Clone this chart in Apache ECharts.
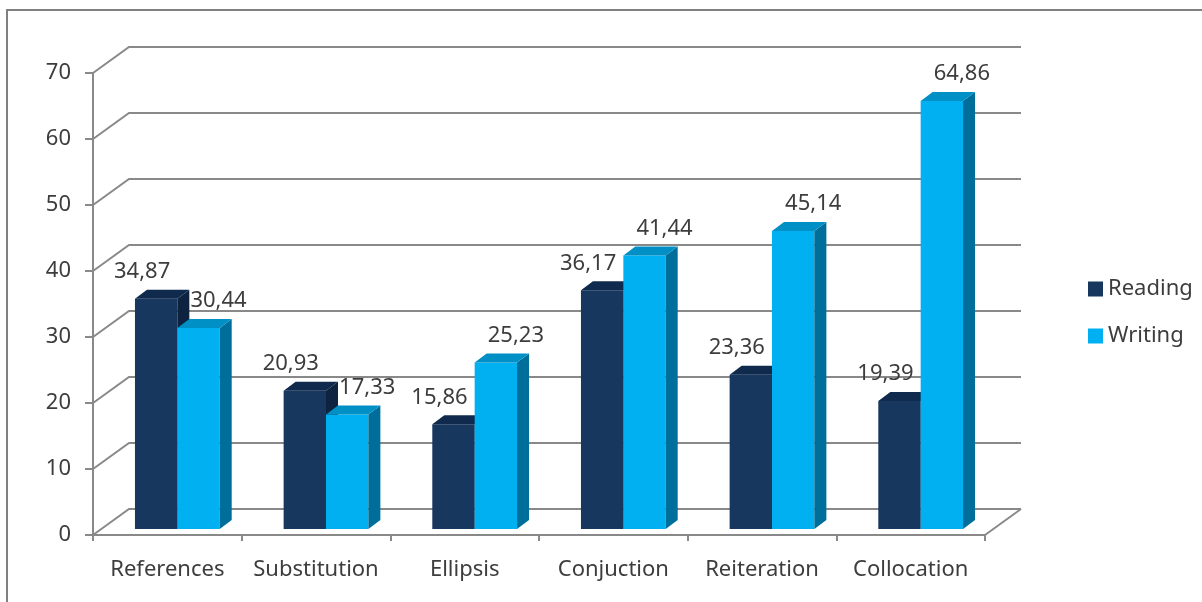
<!DOCTYPE html>
<html>
<head>
<meta charset="utf-8">
<script src="https://cdn.jsdelivr.net/npm/echarts@6/dist/echarts.min.js"></script>
<style>
html,body{margin:0;padding:0;background:#fff;}
#chart{width:1202px;height:602px;}
</style>
</head>
<body>
<div id="chart"></div>
<script>
const categories = ['References', 'Substitution', 'Ellipsis', 'Conjuction', 'Reiteration', 'Collocation'];
const reading = [34.87, 20.93, 15.86, 36.17, 23.36, 19.39];
const writing = [30.44, 17.33, 25.23, 41.44, 45.14, 64.86];
const yTicks = [0, 10, 20, 30, 40, 50, 60, 70];

const WALL_DX = 36, WALL_DY = -26;
const SHIFT_X = 10, SHIFT_Y = -6;
const DEPTH_X = 12, DEPTH_Y = -9;
const BAR_RATIO = 0.285;
const GRID_COLOR = '#898989';
const TEXT_COLOR = '#3d3d3d';
const FONT = '"Noto Sans", "Open Sans", sans-serif';

function fmt(v) { return v.toFixed(2).replace('.', ','); }

function barRenderer(side, colors, labelOffset) {
  return function (params, api) {
    const idx = api.value(0), val = api.value(1);
    const top = api.coord([idx, val]);
    const base = api.coord([idx, 0]);
    const band = api.size([1, 0])[0];
    const bw = band * BAR_RATIO;
    const cx = top[0] + SHIFT_X;
    const x1 = side < 0 ? cx - bw : cx;
    const x2 = x1 + bw;
    const yb = base[1] + SHIFT_Y;
    const yt = top[1] + SHIFT_Y;
    return {
      type: 'group',
      children: [
        { type: 'polygon', shape: { points: [[x1, yb], [x2, yb], [x2, yt], [x1, yt]] }, style: { fill: colors[0] } },
        { type: 'polygon', shape: { points: [[x2, yb], [x2 + DEPTH_X, yb + DEPTH_Y], [x2 + DEPTH_X, yt + DEPTH_Y], [x2, yt]] }, style: { fill: colors[2] } },
        { type: 'polygon', shape: { points: [[x1, yt], [x2, yt], [x2 + DEPTH_X, yt + DEPTH_Y], [x1 + DEPTH_X, yt + DEPTH_Y]] }, style: { fill: colors[1] } },
        { type: 'text', z2: 10, style: { text: fmt(val), x: (x1 + x2) / 2 + labelOffset, y: yt - 27, align: 'center', verticalAlign: 'middle', fill: TEXT_COLOR, font: '22px ' + FONT } }
      ]
    };
  };
}

const chart = echarts.init(document.getElementById('chart'), null, { renderer: 'canvas' });
chart.setOption({
  animation: false,
  backgroundColor: '#ffffff',
  textStyle: { fontFamily: FONT },
  graphic: [
    { type: 'polyline', shape: { points: [[7, 602], [7, 10], [1202, 10]] }, style: { stroke: '#808080', lineWidth: 2, fill: null }, silent: true }
  ],
  legend: {
    data: ['Reading', 'Writing'],
    orient: 'vertical',
    left: 1083,
    top: 273,
    itemWidth: 15,
    itemHeight: 15,
    itemGap: 25,
    icon: 'rect',
    textStyle: { fontSize: 22, color: TEXT_COLOR, fontFamily: FONT }
  },
  grid: { left: 93, top: 73, right: 217, bottom: 67 },
  xAxis: {
    type: 'category',
    data: categories,
    boundaryGap: true,
    axisLine: { lineStyle: { color: GRID_COLOR, width: 2 } },
    axisTick: { show: true, interval: 0, length: 6, lineStyle: { color: GRID_COLOR, width: 2 } },
    axisLabel: { interval: 0, fontSize: 22, color: TEXT_COLOR, margin: 24, fontFamily: FONT },
    splitLine: { show: false }
  },
  yAxis: {
    type: 'value',
    min: 0, max: 70, interval: 10,
    axisLine: { show: true, lineStyle: { color: GRID_COLOR, width: 2 } },
    axisTick: { show: true, length: 8, lineStyle: { color: GRID_COLOR, width: 2 } },
    axisLabel: { fontSize: 22, color: TEXT_COLOR, margin: 22, fontFamily: FONT },
    splitLine: { show: false }
  },
  series: [
    {
      name: 'walls',
      type: 'custom',
      z: 1,
      silent: true,
      data: yTicks.map(v => [0, v]),
      renderItem: function (params, api) {
        const cs = params.coordSys;
        const v = api.value(1);
        const y = api.coord([0, v])[1];
        const x = cs.x, w = cs.width;
        const children = [
          { type: 'polyline', shape: { points: [[x, y], [x + WALL_DX, y + WALL_DY], [x + w + WALL_DX, y + WALL_DY]] }, style: { stroke: GRID_COLOR, lineWidth: 2, fill: null } }
        ];
        if (v === 0) {
          children.push({ type: 'line', shape: { x1: x + w, y1: y, x2: x + w + WALL_DX, y2: y + WALL_DY }, style: { stroke: GRID_COLOR, lineWidth: 2 } });
        }
        return { type: 'group', children: children };
      }
    },
    {
      name: 'Reading',
      type: 'custom',
      z: 3,
      itemStyle: { color: '#17375e' },
      data: reading.map((v, i) => [i, v]),
      renderItem: barRenderer(-1, ['#17375e', '#0f2a4c', '#0d2340'], -14)
    },
    {
      name: 'Writing',
      type: 'custom',
      z: 4,
      itemStyle: { color: '#00b0f0' },
      data: writing.map((v, i) => [i, v]),
      renderItem: barRenderer(1, ['#00b0f0', '#0090c6', '#006e9a'], 20)
    }
  ]
});
</script>
</body>
</html>
